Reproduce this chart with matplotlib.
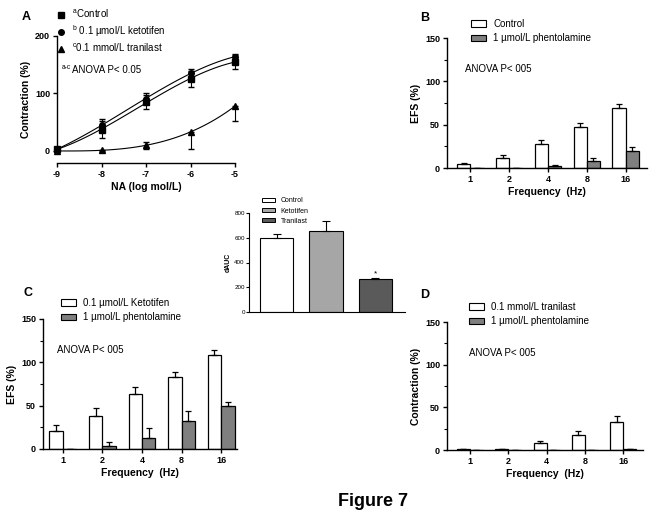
import numpy as np
import matplotlib
matplotlib.use("Agg")
import matplotlib.pyplot as plt
from matplotlib.patches import Patch
from matplotlib.lines import Line2D
from matplotlib.ticker import MultipleLocator

plt.rcParams['font.family'] = ['Liberation Sans', 'DejaVu Sans']
plt.rcParams['mathtext.fontset'] = 'custom'
plt.rcParams['mathtext.rm'] = 'Liberation Sans'
plt.rcParams['axes.unicode_minus'] = False

# ---- data ----
# panel A: NA concentration-response
log_na = [-9, -8, -7, -6, -5]
ctrl_a = [3, 37, 85, 125, 155]
ctrl_a_err = [2, 15, 12, 14, 12]
keto_a = [3, 45, 91, 135, 164]
keto_a_err = [2, 11, 10, 7, 5]
tran_a = [0, 1, 10, 33, 78]
tran_a_lo = [0, 1, 6, 29, 26]
tran_a_hi = [0, 1, 5, 0, 0]

freqs = ['1', '2', '4', '8', '16']
# panel B
ctrl_b = [5, 11.5, 27.5, 47, 69]
ctrl_b_err = [1, 3.5, 5, 5.5, 5]
phen_b = [0, 0, 2.7, 8.4, 20]
phen_b_err = [0, 0, 1.1, 3.1, 4.5]
# panel C
keto_c = [20.4, 38.5, 64, 82.7, 109]
keto_c_err = [7.3, 8.5, 7, 6.3, 5]
phen_c = [0, 3.8, 12.7, 32, 49.6]
phen_c_err = [0, 3.9, 11.3, 11.5, 4.4]
# panel D
tran_d = [0.6, 1.2, 8, 17.5, 32.6]
tran_d_err = [0.3, 0.3, 2.5, 4.5, 7.4]
phen_d = [0, 0, 0, 0, 0.6]
phen_d_err = [0, 0, 0, 0, 0.2]
# inset: dAUC
auc_groups = ['Control', 'Ketotifen', 'Tranilast']
auc_vals = [602, 655, 265]
auc_err = [25, 78, 8]

W, H = 653, 518
fig = plt.figure(figsize=(W / 100, H / 100), dpi=100)


def px_axes(x0, y_top, x1, y_bot):
    return fig.add_axes([x0 / W, 1 - y_bot / H, (x1 - x0) / W, (y_bot - y_top) / H])


def prism_style(ax):
    for s in ['top', 'right']:
        ax.spines[s].set_visible(False)
    for s in ['left', 'bottom']:
        ax.spines[s].set_linewidth(1.0)
    ax.tick_params(direction='out', length=3, width=1, labelsize=6.5, pad=2)
    for lab in ax.get_xticklabels() + ax.get_yticklabels():
        lab.set_fontweight('bold')


def bar_panel(ax, a, aerr, b, berr, ylabel):
    x = np.arange(len(freqs))
    w = 0.34
    ax.bar(x - w / 2, a, w, color='white', edgecolor='black', linewidth=0.9,
           yerr=[np.zeros(len(a)), aerr], capsize=2.5,
           error_kw=dict(elinewidth=0.9, capthick=0.9))
    ax.bar(x + w / 2, b, w, color='#7f7f7f', edgecolor='black', linewidth=0.9,
           yerr=[np.zeros(len(b)), berr], capsize=2.5,
           error_kw=dict(elinewidth=0.9, capthick=0.9))
    ax.set_ylim(0, 150)
    ax.set_yticks([0, 50, 100, 150])
    ax.yaxis.set_minor_locator(MultipleLocator(25))
    ax.tick_params(which='minor', direction='out', length=2, width=0.8)
    ax.set_xticks(x)
    ax.set_xticklabels(freqs)
    ax.set_xlabel('Frequency  (Hz)', fontsize=7.5, fontweight='bold', labelpad=2)
    ax.set_ylabel(ylabel, fontsize=7.5, fontweight='bold', labelpad=3)
    prism_style(ax)


# ---- panel A ----
axA = px_axes(57, 36, 235, 163)
xs = np.linspace(-9, -5, 100)
for yv in [ctrl_a, keto_a, tran_a]:
    coef = np.polyfit(log_na, yv, 3)
    axA.plot(xs, np.polyval(coef, xs), color='black', lw=0.8, clip_on=False)
axA.errorbar(log_na, ctrl_a, yerr=ctrl_a_err, fmt='s', color='black', ms=4,
             elinewidth=0.8, capsize=2.5, clip_on=False)
axA.errorbar(log_na, keto_a, yerr=keto_a_err, fmt='o', color='black', ms=4,
             elinewidth=0.8, capsize=2.5, clip_on=False)
axA.errorbar(log_na, tran_a, yerr=[tran_a_lo, tran_a_hi], fmt='^', color='black', ms=4,
             elinewidth=0.8, capsize=2.5, clip_on=False)
axA.set_xlim(-9, -5)
axA.set_ylim(-21, 200)
axA.spines['left'].set_bounds(0, 200)
axA.set_yticks([0, 100, 200])
axA.set_xticks(log_na)
axA.set_xlabel('NA (log mol/L)', fontsize=7.5, fontweight='bold', labelpad=2)
axA.set_ylabel('Contraction (%)', fontsize=7.5, fontweight='bold', labelpad=3)
prism_style(axA)
axA.text(0.025, 0.755, 'a-c', transform=axA.transAxes, fontsize=4.8, va='center')
axA.text(0.085, 0.73, 'ANOVA P< 0.05', transform=axA.transAxes, fontsize=7, va='center')
handlesA = [Line2D([], [], marker=m, color='black', ls='none', ms=4) for m in ['s', 'o', '^']]
fig.legend(handlesA, [r'$^{\mathrm{a}}$Control', r'$^{\mathrm{b}}$ 0.1 µmol/L ketotifen',
                      r'$^{\mathrm{c}}$0.1 mmol/L tranilast'],
           loc='upper left', bbox_to_anchor=(50 / W, 1 - 3 / H), frameon=False,
           fontsize=7, handlelength=1.2, handletextpad=0.6, labelspacing=0.3, borderpad=0)
fig.text(22 / W, 1 - 17 / H, 'A', fontsize=9, fontweight='bold', va='center')

# ---- panel B ----
axB = px_axes(447, 38, 647, 168)
bar_panel(axB, ctrl_b, ctrl_b_err, phen_b, phen_b_err, 'EFS (%)')
axB.set_xlim(-0.6, 4.55)
axB.text(0.09, 0.76, 'ANOVA P< 005', transform=axB.transAxes, fontsize=7, va='center')
fig.legend([Patch(fc='white', ec='black', lw=0.8), Patch(fc='#7f7f7f', ec='black', lw=0.8)],
           ['Control', '1 µmol/L phentolamine'], loc='upper left',
           bbox_to_anchor=(466 / W, 1 - 14 / H), frameon=False, fontsize=7,
           handlelength=1.6, handleheight=0.6, handletextpad=0.7, labelspacing=0.45, borderpad=0)
fig.text(420 / W, 1 - 18 / H, 'B', fontsize=9, fontweight='bold', va='center')

# ---- panel C ----
axC = px_axes(43, 319, 237, 449)
bar_panel(axC, keto_c, keto_c_err, phen_c, phen_c_err, 'EFS (%)')
axC.set_xlim(-0.5, 4.4)
axC.text(0.07, 0.76, 'ANOVA P< 005', transform=axC.transAxes, fontsize=7, va='center')
fig.legend([Patch(fc='white', ec='black', lw=0.8), Patch(fc='#7f7f7f', ec='black', lw=0.8)],
           ['0.1 µmol/L Ketotifen', '1 µmol/L phentolamine'], loc='upper left',
           bbox_to_anchor=(56 / W, 1 - 293 / H), frameon=False, fontsize=7,
           handlelength=1.6, handleheight=0.6, handletextpad=0.7, labelspacing=0.45, borderpad=0)
fig.text(23 / W, 1 - 293 / H, 'C', fontsize=9, fontweight='bold', va='center')

# ---- panel D ----
axD = px_axes(447, 322, 643, 450)
bar_panel(axD, tran_d, tran_d_err, phen_d, phen_d_err, 'Contraction (%)')
axD.set_xlim(-0.6, 4.52)
axD.text(0.11, 0.76, 'ANOVA P< 005', transform=axD.transAxes, fontsize=7, va='center')
fig.legend([Patch(fc='white', ec='black', lw=0.8), Patch(fc='#7f7f7f', ec='black', lw=0.8)],
           ['0.1 mmol/L tranilast', '1 µmol/L phentolamine'], loc='upper left',
           bbox_to_anchor=(464 / W, 1 - 297 / H), frameon=False, fontsize=7,
           handlelength=1.6, handleheight=0.6, handletextpad=0.7, labelspacing=0.45, borderpad=0)
fig.text(420 / W, 1 - 295 / H, 'D', fontsize=9, fontweight='bold', va='center')

# ---- inset: dAUC ----
axI = px_axes(249, 213, 405, 312)
auc_colors = ['white', '#a6a6a6', '#5a5a5a']
xi = np.arange(len(auc_groups))
axI.bar(xi, auc_vals, 0.67, color=auc_colors, edgecolor='black', linewidth=0.8,
        yerr=[np.zeros(3), auc_err], capsize=3, error_kw=dict(elinewidth=0.8, capthick=0.8))
axI.text(2, auc_vals[2] + auc_err[2] + 8, '*', ha='center', va='bottom', fontsize=6)
axI.set_xlim(-0.56, 2.6)
axI.set_ylim(0, 800)
axI.set_yticks([0, 200, 400, 600, 800])
axI.set_xticks([])
axI.set_ylabel('dAUC', fontsize=5, fontweight='bold', labelpad=2)
for s in ['top', 'right']:
    axI.spines[s].set_visible(False)
axI.spines['left'].set_linewidth(0.8)
axI.spines['bottom'].set_linewidth(0.8)
axI.tick_params(direction='out', length=2, width=0.8, labelsize=4.5, pad=1)
fig.legend([Patch(fc=c, ec='black', lw=0.7) for c in auc_colors], auc_groups,
           loc='upper left', bbox_to_anchor=(259 / W, 1 - 194 / H), frameon=False, fontsize=5,
           handlelength=1.8, handleheight=0.6, handletextpad=0.8, labelspacing=0.45, borderpad=0)

fig.text(373 / W, 1 - 502 / H, 'Figure 7', fontsize=13, fontweight='bold',
         ha='center', va='center')

fig.savefig('out.png', dpi=100)
